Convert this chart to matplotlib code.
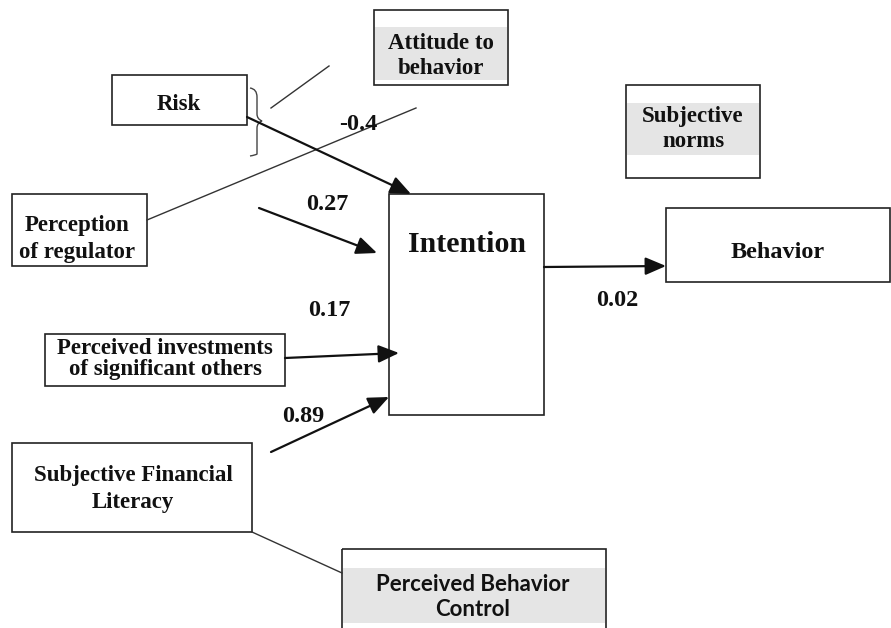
import matplotlib.pyplot as plt
from matplotlib.patches import Rectangle, PathPatch
from matplotlib.path import Path

# boxes: label, x0, y0, x1, y1 (pixel space, y down)
box_labels = ['Attitude to\nbehavior', 'Risk', 'Perception\nof regulator', 'Intention',
              'Subjective\nnorms', 'Behavior', 'Perceived investments\nof significant others',
              'Subjective Financial\nLiteracy', 'Perceived Behavior\nControl']
box_x0 = [374, 112, 12, 389, 626, 666, 45, 12, 342]
box_y0 = [10, 75, 194, 194, 85, 208, 334, 443, 549]
box_x1 = [508, 247, 147, 544, 760, 890, 285, 252, 606]
box_y1 = [85, 125, 266, 415, 178, 282, 386, 532, 640]
# grey band inside some boxes (index -> y range)
grey_band = {0: (27, 80), 4: (103, 155), 8: (568, 623)}
# label centre positions
label_x = [441, 179, 77, 467, 693, 778, 165, 133, 473]
label_y = [56, 105, 239, 244, 129, 252, 359, 489, 597]
label_size = [16.5, 16.5, 16.5, 21.5, 16.5, 17.5, 16.5, 16.5, 16]
label_gap = [1.3, 1.0, 1.32, 1.0, 1.3, 1.0, 1.05, 1.32, 1.25]

# paths with arrow heads (start, end)
arrow_start = [(247, 117), (259, 208), (285, 358), (271, 452), (544, 267)]
arrow_end = [(411, 194), (377, 253), (399, 353), (389, 397), (666, 266)]

# plain lines
line_start = [(147, 220), (271, 108), (252, 532)]
line_end = [(416, 108), (329, 66), (342, 573)]

# path coefficients
coef_labels = ['-0.4', '0.27', '0.17', '0.89', '0.02']
coef_x = [358, 327, 329, 303, 617]
coef_y = [124, 204, 311, 416, 300]

fig = plt.figure(figsize=(8.91, 6.28), dpi=100)
ax = fig.add_axes([0, 0, 1, 1])
ax.set_xlim(0, 891)
ax.set_ylim(628, 0)
ax.axis('off')

serif = 'Liberation Serif'
ink = '#111111'

for i, lab in enumerate(box_labels):
    x0, y0, x1, y1 = box_x0[i], box_y0[i], box_x1[i], box_y1[i]
    if i in grey_band:
        g0, g1 = grey_band[i]
        ax.add_patch(Rectangle((x0 + 1, g0), x1 - x0 - 2, g1 - g0, facecolor='#e5e5e5',
                               edgecolor='none', zorder=1))
    ax.add_patch(Rectangle((x0, y0), x1 - x0, y1 - y0, facecolor='none',
                           edgecolor='#222222', lw=1.2, zorder=2))
    fam = ['Lato', 'DejaVu Sans'] if i == 8 else serif
    ax.text(label_x[i], label_y[i], lab, ha='center', va='center', multialignment='center',
            fontsize=label_size[i], fontweight='bold', family=fam, color=ink,
            linespacing=label_gap[i], zorder=3)

for s, e in zip(arrow_start, arrow_end):
    ax.annotate('', xy=e, xytext=s,
                arrowprops=dict(arrowstyle='-|>,head_length=0.7,head_width=0.3',
                                mutation_scale=18, lw=1.6, color='#111111',
                                shrinkA=0, shrinkB=0), zorder=4)

for s, e in zip(line_start, line_end):
    ax.plot([s[0], e[0]], [s[1], e[1]], color='#333333', lw=1.0, zorder=2)

# curly brace next to Risk
verts = [(250, 88), (257, 89), (257, 97), (257, 100),
         (257, 114), (257, 119), (262, 121),
         (257, 123), (257, 128), (257, 143),
         (257, 154), (256, 155), (250, 156)]
codes = [Path.MOVETO, Path.CURVE3, Path.CURVE3, Path.LINETO,
         Path.LINETO, Path.CURVE3, Path.CURVE3,
         Path.CURVE3, Path.CURVE3, Path.LINETO,
         Path.LINETO, Path.CURVE3, Path.CURVE3]
ax.add_patch(PathPatch(Path(verts, codes), facecolor='none', edgecolor='#444444', lw=1.0))

for lab, x, y in zip(coef_labels, coef_x, coef_y):
    ax.text(x, y, lab, ha='center', va='center', fontsize=17.5, fontweight='bold',
            family=serif, color=ink, zorder=5)

fig.savefig('out.png', dpi=100)
